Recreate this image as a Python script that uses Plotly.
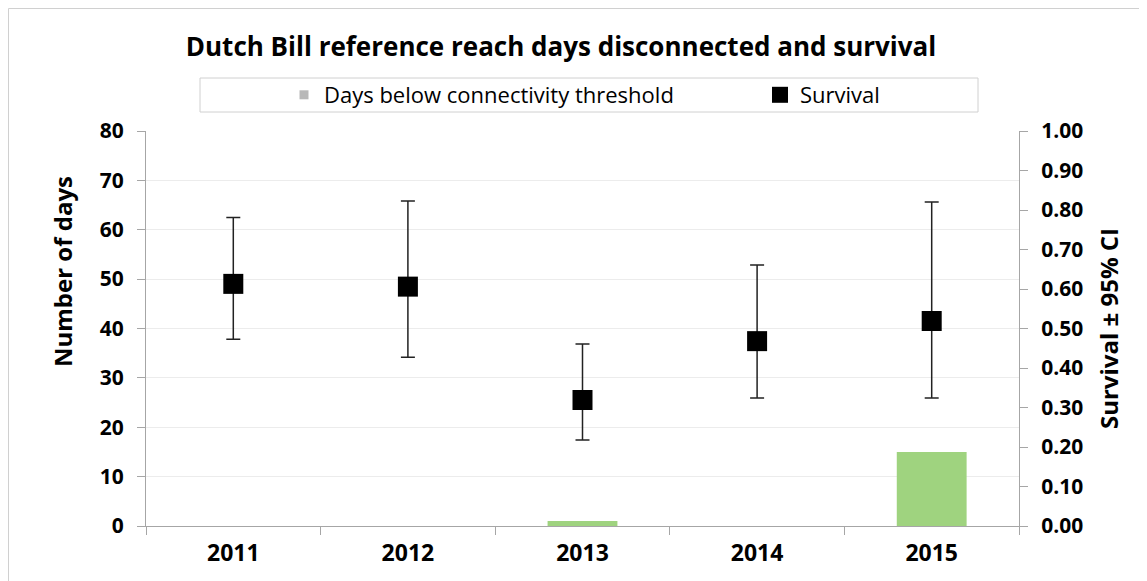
import plotly.graph_objects as go

years = ["2011", "2012", "2013", "2014", "2015"]
days_below = [0, 0, 1, 0, 15]
survival = [0.613, 0.606, 0.319, 0.468, 0.519]
ci_upper = [0.781, 0.823, 0.461, 0.661, 0.820]
ci_lower = [0.473, 0.427, 0.218, 0.324, 0.324]

err_plus = [u - s for u, s in zip(ci_upper, survival)]
err_minus = [s - l for s, l in zip(survival, ci_lower)]

FONT = "Open Sans"
W, H = 1147, 581
OFF = 8  # page body margin
ML, MT = 146 - OFF, 131 - OFF
MR = W - (1019 - OFF)
MB = H - (526 - OFF)
PW, PH = W - ML - MR, H - MT - MB


def sx(px):
    """screen x pixel -> paper x"""
    return (px - OFF - ML) / PW


def sy(py):
    """screen y pixel -> paper y"""
    return (H - MB - (py - OFF)) / PH


fig = go.Figure()
fig.add_trace(go.Bar(
    x=years, y=days_below, name="Days below connectivity threshold",
    marker=dict(color="#9fd37f", line=dict(width=0)), width=0.4,
    yaxis="y", showlegend=False,
))
fig.add_trace(go.Scatter(
    x=[None], y=[None], mode="markers", name="Days below connectivity threshold",
    marker=dict(symbol="square", size=9, color="#b8b8b8"), yaxis="y",
    legend="legend",
))
fig.add_trace(go.Scatter(
    x=years, y=survival, name="Survival", mode="markers",
    marker=dict(symbol="square", size=20, color="black"),
    error_y=dict(type="data", symmetric=False, array=err_plus, arrayminus=err_minus,
                 color="#222222", thickness=1.5, width=7),
    yaxis="y2", legend="legend2",
))

leg_common = dict(orientation="h", xanchor="left", yanchor="middle",
                  bgcolor="rgba(0,0,0,0)", borderwidth=0,
                  font=dict(size=22, family=FONT, color="black"),
                  itemsizing="trace")

fig.update_layout(
    width=W, height=H,
    margin=dict(l=ML, r=MR, t=MT, b=MB),
    paper_bgcolor="white", plot_bgcolor="white",
    font=dict(family=FONT, color="black"),
    title=dict(text="<b>Dutch Bill reference reach days disconnected and survival</b>",
               x=(561 - OFF) / W, xanchor="center", xref="container",
               y=1 - (47 - OFF) / H, yanchor="middle",
               font=dict(size=26, family=FONT, color="black")),
    showlegend=True,
    legend=dict(x=sx(284), y=sy(95), **leg_common),
    legend2=dict(x=sx(760), y=sy(95), **leg_common),
    xaxis=dict(type="category", showline=True, linecolor="#a6a6a6", linewidth=1,
               ticks="outside", tickson="boundaries", ticklen=8, tickcolor="#a6a6a6",
               tickfont=dict(size=23, family=FONT, color="black"), ticklabelstandoff=6,
               showgrid=False, range=[-0.5, 4.5]),
    yaxis=dict(range=[0, 80], dtick=10, showline=True, linecolor="#a6a6a6", linewidth=1,
               ticks="outside", ticklen=8, tickcolor="#a6a6a6",
               showgrid=True, gridcolor="#ececec", gridwidth=1, zeroline=False,
               tickfont=dict(size=21, family=FONT, color="black"), ticklabelstandoff=9),
    yaxis2=dict(range=[0, 1], dtick=0.1, tickformat=".2f", overlaying="y", side="right",
                showline=True, linecolor="#a6a6a6", linewidth=1,
                ticks="outside", ticklen=8, tickcolor="#a6a6a6", showgrid=False, zeroline=False,
                tickfont=dict(size=21, family=FONT, color="black"), ticklabelstandoff=9,
                title=dict(text="<b>Survival ± 95% CI</b>", font=dict(size=24, family=FONT), standoff=18)),
    annotations=[
        dict(text="<b>Number of days</b>", textangle=-90, xref="paper", yref="paper",
             x=sx(62), y=sy(272), xanchor="center", yanchor="middle", showarrow=False,
             font=dict(size=24, family=FONT, color="black")),
    ],
    shapes=[
        dict(type="rect", xref="paper", yref="paper",
             x0=sx(200), x1=sx(978), y0=sy(78), y1=sy(112),
             line=dict(color="#d0d0d0", width=1), fillcolor="rgba(0,0,0,0)", layer="below"),
        dict(type="rect", xref="paper", yref="paper",
             x0=sx(8.5), x1=sx(1160), y0=sy(8.5), y1=sy(600),
             line=dict(color="#d0d0d0", width=1), fillcolor="rgba(0,0,0,0)", layer="below"),
    ],
)

fig.update_layout(xaxis_tickprefix="<b>", xaxis_ticksuffix="</b>",
                  yaxis_tickprefix="<b>", yaxis_ticksuffix="</b>",
                  yaxis2_tickprefix="<b>", yaxis2_ticksuffix="</b>")

fig.write_html("out.html")
